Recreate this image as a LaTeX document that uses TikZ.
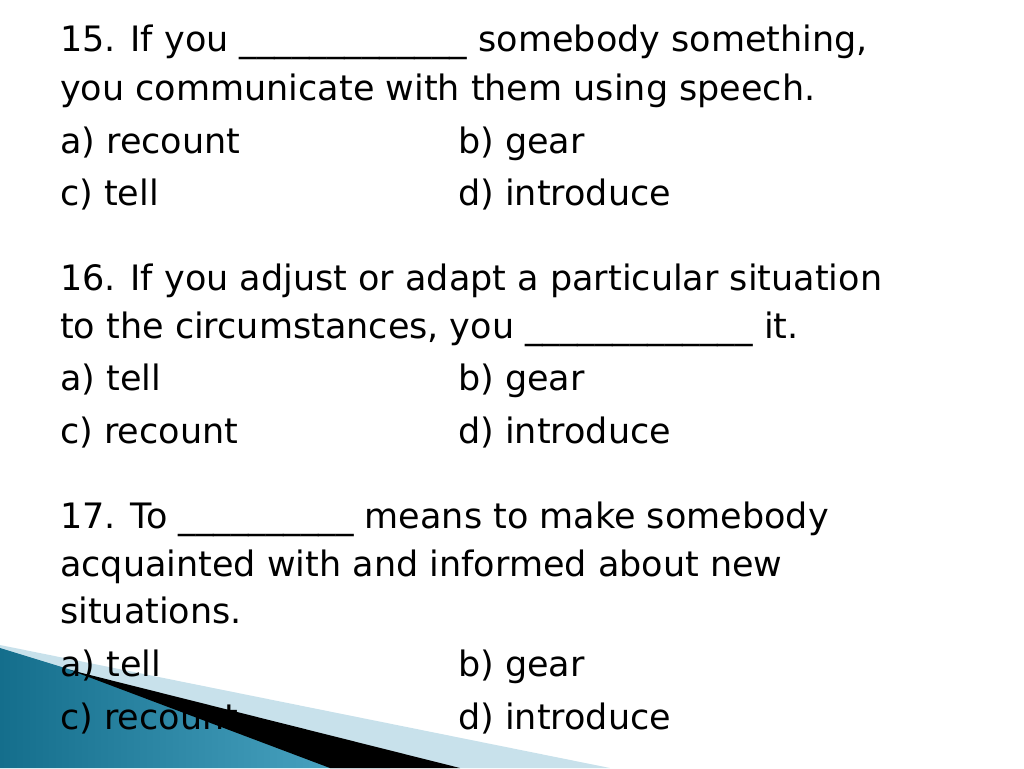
\documentclass[tikz,border=0pt]{standalone}
\usepackage{fontspec}
\setmainfont{DejaVu Sans}
\usetikzlibrary{positioning}
\definecolor{tealdark}{RGB}{20,110,140}
\definecolor{teallight}{RGB}{80,170,200}
\definecolor{paleblue}{RGB}{200,225,235}
\tikzset{
  line/.style={anchor=base west,inner sep=0pt,font=\fontsize{35}{42}\selectfont},
}
\begin{document}
\begin{tikzpicture}[x=1pt,y=-1pt]
    \useasboundingbox (0,0) rectangle (1024,768);
    % corner decoration
    \fill[paleblue] (0,645) -- (610,768) -- (0,768) -- cycle;
    \shade[left color=tealdark,right color=teallight] (0,648) -- (390,768) -- (0,768) -- cycle;
    \fill[black] (70,670) -- (460,768) -- (330,768) -- cycle;
    % question 15
    \node[line] (q15a) at (60,52) {15. If you \_\_\_\_\_\_\_\_\_\_\_\_\_ somebody something,};
    \node[line] (q15b) at (60,100) {you communicate with them using speech.};
    \node[line] (q15oa) at (60,153) {a) recount};
    \node[line] (q15ob) at (458,153) {b) gear};
    \node[line] (q15oc) at (60,205) {c) tell};
    \node[line] (q15od) at (458,205) {d) introduce};
    % question 16
    \node[line] (q16a) at (60,290) {16. If you adjust or adapt a particular situation};
    \node[line] (q16b) at (60,338) {to the circumstances, you \_\_\_\_\_\_\_\_\_\_\_\_\_ it.};
    \node[line] (q16oa) at (60,390) {a) tell};
    \node[line] (q16ob) at (458,390) {b) gear};
    \node[line] (q16oc) at (60,443) {c) recount};
    \node[line] (q16od) at (458,443) {d) introduce};
    % question 17
    \node[line] (q17a) at (60,528) {17. To \_\_\_\_\_\_\_\_\_\_ means to make somebody};
    \node[line] (q17b) at (60,576) {acquainted with and informed about new};
    \node[line] (q17c) at (60,623) {situations.};
    \node[line] (q17oa) at (60,676) {a) tell};
    \node[line] (q17ob) at (458,676) {b) gear};
    \node[line] (q17oc) at (60,729) {c) recount};
    \node[line] (q17od) at (458,729) {d) introduce};
\end{tikzpicture}
\end{document}
